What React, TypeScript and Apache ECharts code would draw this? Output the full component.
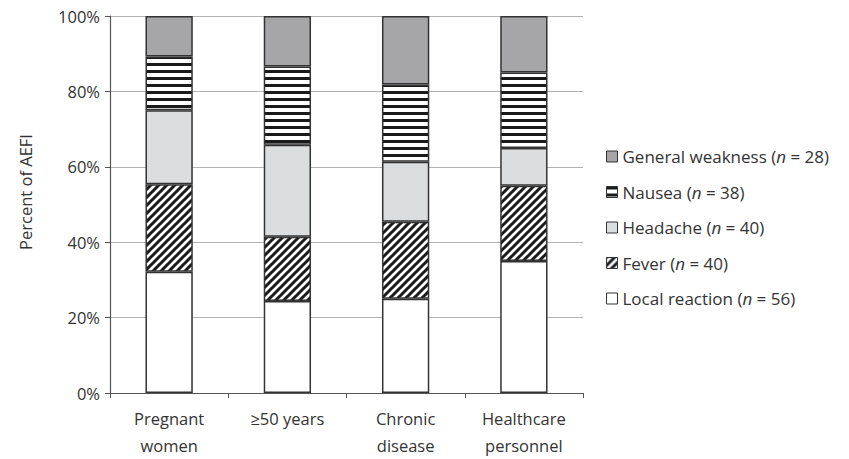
import React, { useEffect, useRef } from "react";
import * as echarts from "echarts";

const categories = ["Pregnant\nwomen", "≥50 years", "Chronic\ndisease", "Healthcare\npersonnel"];
const seriesNames = ["Local reaction", "Fever", "Headache", "Nausea", "General weakness"];
const localReaction = [18, 20, 11, 7];
const fever = [13, 14, 9, 4];
const headache = [11, 20, 7, 2];
const nausea = [8, 17, 9, 4];
const weakness = [6, 11, 8, 3];
const legendCounts = [56, 40, 40, 38, 28];
const yTicks = [0, 20, 40, 60, 80, 100];

function makePattern(kind: "diag" | "horiz") {
  const c = document.createElement("canvas");
  const s = kind === "diag" ? 8 : 7;
  c.width = s;
  c.height = s;
  const ctx = c.getContext("2d")!;
  ctx.fillStyle = "#ffffff";
  ctx.fillRect(0, 0, s, s);
  ctx.fillStyle = "#1a1a1a";
  ctx.strokeStyle = "#1a1a1a";
  if (kind === "horiz") {
    ctx.fillRect(0, 0, s, 3);
  } else {
    ctx.lineWidth = 3;
    ctx.beginPath();
    ctx.moveTo(-2, 2);
    ctx.lineTo(2, -2);
    ctx.moveTo(0, s);
    ctx.lineTo(s, 0);
    ctx.moveTo(s - 2, s + 2);
    ctx.lineTo(s + 2, s - 2);
    ctx.stroke();
  }
  return { image: c.toDataURL(), repeat: "repeat", imageWidth: s, imageHeight: s } as any;
}

export default function App() {
  const ref = useRef<HTMLDivElement>(null);
  useEffect(() => {
    if (!ref.current) return;
    const chart = echarts.init(ref.current, null, { renderer: "svg" });
    const raw = [localReaction, fever, headache, nausea, weakness];
    const totals = categories.map((_, i) => raw.reduce((a, arr) => a + arr[i], 0));
    const fills: any[] = ["#ffffff", makePattern("diag"), "#dcdddf", makePattern("horiz"), "#a6a6a8"];
    const font = "'Open Sans', sans-serif";
    const fs = 16.5;
    const lfs = 17;
    const txt = "#333333";
    const series = raw.map((arr, k) => ({
      name: seriesNames[k],
      type: "bar",
      stack: "all",
      barWidth: "40%",
      data: arr.map((v, i) => (v / totals[i]) * 100),
      itemStyle: { color: fills[k], borderColor: "#333333", borderWidth: 1.5 },
    }));
    chart.setOption({
      animation: false,
      textStyle: { fontFamily: font },
      grid: { left: 110, right: 266, top: 16, bottom: 58 },
      graphic: [
        {
          type: "text",
          x: 25,
          y: 192,
          rotation: Math.PI / 2,
          style: { text: "Percent of AEFI", fontFamily: font, fontSize: fs, fill: txt, align: "center", verticalAlign: "middle" },
        },
      ],
      legend: {
        orient: "vertical",
        left: 601,
        top: 143,
        icon: "rect",
        itemWidth: 11,
        itemHeight: 11,
        itemGap: 18.5,
        data: [...seriesNames].reverse(),
        itemStyle: { borderColor: "#333333", borderWidth: 1 },
        textStyle: {
          fontFamily: font,
          fontSize: lfs,
          color: txt,
          rich: {
            a: { fontFamily: font, fontSize: lfs, color: txt },
            i: { fontFamily: font, fontSize: lfs, color: txt, fontStyle: "italic" },
          },
        },
        formatter: (name: string) => {
          const n = legendCounts[seriesNames.indexOf(name)];
          return `{a|${name} (}{i|n}{a| = ${n})}`;
        },
      },
      xAxis: {
        type: "category",
        data: categories,
        axisLine: { lineStyle: { color: "#555555", width: 1.2 } },
        axisTick: { show: true, length: 5, lineStyle: { color: "#555555" } },
        axisLabel: { fontFamily: font, fontSize: fs, color: txt, margin: 12, lineHeight: 27 },
      },
      yAxis: {
        type: "value",
        min: yTicks[0],
        max: yTicks[yTicks.length - 1],
        interval: 20,
        axisLine: { show: true, lineStyle: { color: "#555555", width: 1.2 } },
        axisTick: { show: true, inside: false, length: 5, lineStyle: { color: "#555555" } },
        axisLabel: { fontFamily: font, fontSize: fs, color: txt, margin: 10, formatter: "{value}%" },
        splitLine: { lineStyle: { color: "#b3b3b3", width: 1.2 } },
      },
      series,
    });
    return () => chart.dispose();
  }, []);
  return <div ref={ref} style={{ position: "absolute", left: 0, top: 0, width: 849, height: 459 }} />;
}
